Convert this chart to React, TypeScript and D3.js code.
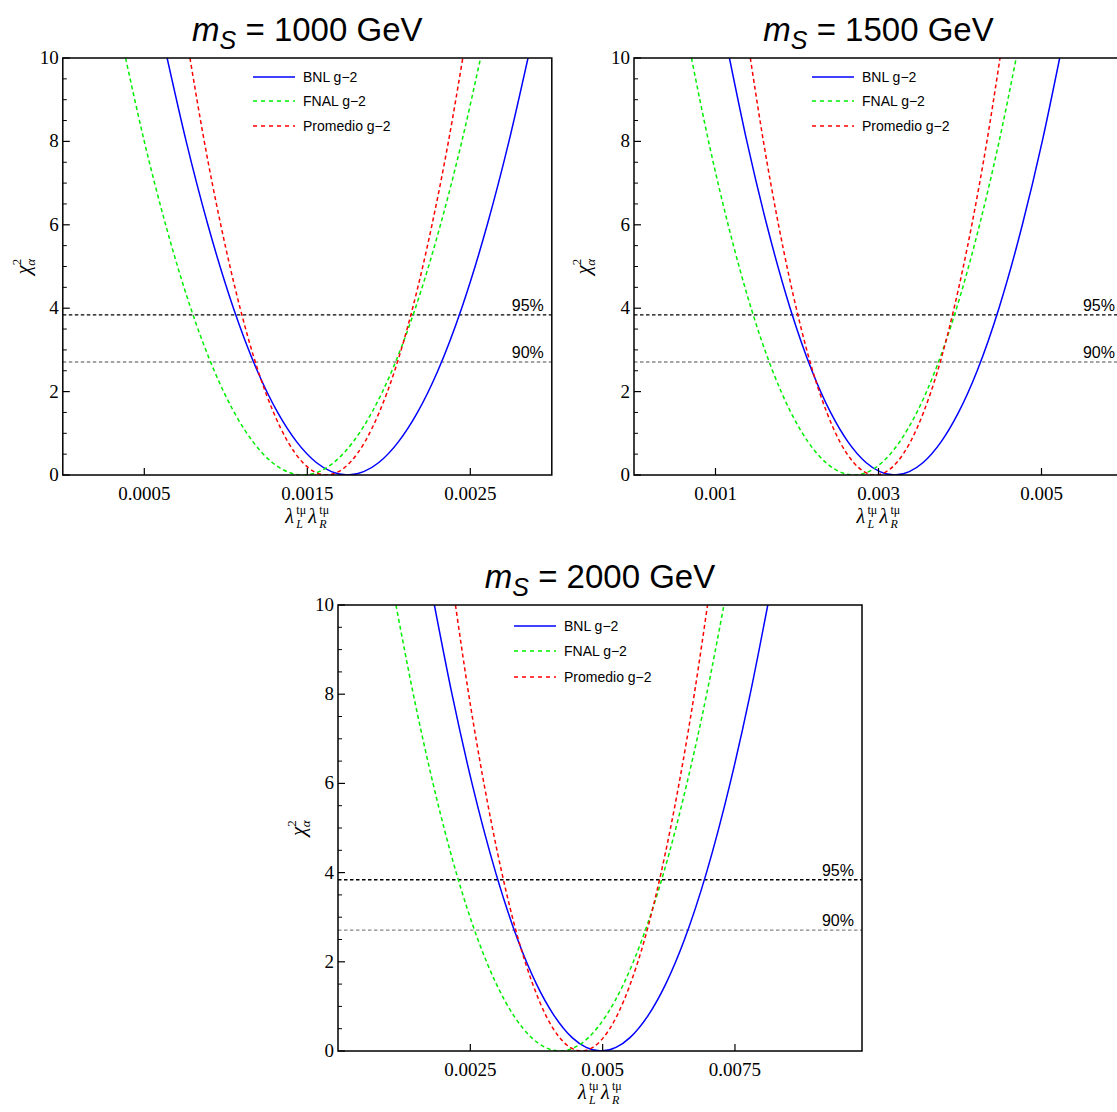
import React from "react";
import * as d3 from "d3";

const chiLevels = [10, 8, 6, 4, 2.5, 1.5, 0.8, 0.3, 0.08, 0, 0.08, 0.3, 0.8, 1.5, 2.5, 4, 6, 8, 10];

// m_S = 1000 GeV
const bnl1000 = [0.00064, 0.000757, 0.00089, 0.001047, 0.001193, 0.001318, 0.001434, 0.001555, 0.001648, 0.001747,
  0.001846, 0.001939, 0.00206, 0.002176, 0.002301, 0.002447, 0.002604, 0.002737, 0.002854];
const fnal1000 = [0.000385, 0.0005, 0.000631, 0.000785, 0.000929, 0.001052, 0.001166, 0.001285, 0.001377, 0.001474,
  0.001572, 0.001663, 0.001782, 0.001896, 0.002019, 0.002163, 0.002317, 0.002448, 0.002563];
const prom1000 = [0.00078, 0.000868, 0.000969, 0.001088, 0.001198, 0.001293, 0.00138, 0.001472, 0.001542, 0.001617,
  0.001692, 0.001762, 0.001854, 0.001941, 0.002036, 0.002146, 0.002265, 0.002366, 0.002454];

// m_S = 1500 GeV
const bnl1500 = [0.001171, 0.001385, 0.001629, 0.001916, 0.002183, 0.002412, 0.002624, 0.002846, 0.003016, 0.003197,
  0.003378, 0.003548, 0.00377, 0.003982, 0.004211, 0.004478, 0.004765, 0.005009, 0.005223];
const fnal1500 = [0.000705, 0.000915, 0.001155, 0.001437, 0.0017, 0.001925, 0.002134, 0.002352, 0.00252, 0.002697,
  0.002877, 0.003043, 0.003261, 0.00347, 0.003695, 0.003958, 0.00424, 0.00448, 0.00469];
const prom1500 = [0.001427, 0.001588, 0.001773, 0.001991, 0.002192, 0.002366, 0.002525, 0.002694, 0.002822, 0.002959,
  0.003096, 0.003224, 0.003393, 0.003552, 0.003726, 0.003927, 0.004145, 0.00433, 0.004491];

// m_S = 2000 GeV
const bnl2000 = [0.001821, 0.002154, 0.002532, 0.002979, 0.003394, 0.00375, 0.00408, 0.004424, 0.004689, 0.00497,
  0.005252, 0.005516, 0.005861, 0.006191, 0.006546, 0.006962, 0.007408, 0.007787, 0.00812];
const fnal2000 = [0.001095, 0.001423, 0.001795, 0.002233, 0.002643, 0.002993, 0.003317, 0.003656, 0.003918, 0.004194,
  0.004472, 0.004731, 0.00507, 0.005394, 0.005744, 0.006154, 0.006592, 0.006965, 0.007292];
const prom2000 = [0.002219, 0.002469, 0.002757, 0.003095, 0.003408, 0.003679, 0.003926, 0.004188, 0.004387, 0.0046,
  0.004814, 0.005013, 0.005275, 0.005522, 0.005792, 0.006105, 0.006444, 0.006731, 0.006982];

const seriesNames = ["BNL g\u22122", "FNAL g\u22122", "Promedio g\u22122"];
const seriesColors = ["#0000ff", "#00ee00", "#ff0000"];
const seriesDash = [null, "4,3", "4,3"];

const massLabels = ["1000", "1500", "2000"];
const xTicks1000 = [0.0005, 0.0015, 0.0025];
const xTicks1500 = [0.001, 0.003, 0.005];
const xTicks2000 = [0.0025, 0.005, 0.0075];
const yMajor = [0, 2, 4, 6, 8, 10];
const clValues = [3.84, 2.71];
const clLabels = ["95%", "90%"];

const serif = "'Liberation Serif', 'Times New Roman', serif";
const sans = "'Liberation Sans', Arial, sans-serif";

const panels = [
  { mass: massLabels[0], series: [bnl1000, fnal1000, prom1000], xMax: 0.003, ticks: xTicks1000,
    left: 62.8, right: 551.8, top: 58, bottom: 475, legendX: 253, legendY: [77, 101, 126], yLabelDx: -33 },
  { mass: massLabels[1], series: [bnl1500, fnal1500, prom1500], xMax: 0.006, ticks: xTicks1500,
    left: 634, right: 1123, top: 58, bottom: 475, legendX: 812, legendY: [77, 101, 126], yLabelDx: -44 },
  { mass: massLabels[2], series: [bnl2000, fnal2000, prom2000], xMax: 0.0099, ticks: xTicks2000,
    left: 338, right: 862, top: 605, bottom: 1051, legendX: 514, legendY: [626, 651, 677], yLabelDx: -33 },
];

function XLabel({ cx, y }) {
  const x0 = cx - 22;
  return (
    <g fontFamily={serif} fill="#000">
      <text x={x0} y={y} fontSize={20} fontStyle="italic">λ</text>
      <text x={x0 + 11} y={y - 9} fontSize={12}>tμ</text>
      <text x={x0 + 11} y={y + 5} fontSize={12} fontStyle="italic">L</text>
      <text x={x0 + 23} y={y} fontSize={20} fontStyle="italic">λ</text>
      <text x={x0 + 34} y={y - 9} fontSize={12}>tμ</text>
      <text x={x0 + 34} y={y + 5} fontSize={12} fontStyle="italic">R</text>
    </g>
  );
}

function Panel({ p }) {
  const x = d3.scaleLinear().domain([0, p.xMax]).range([p.left, p.right]);
  const y = d3.scaleLinear().domain([0, 10]).range([p.bottom, p.top]);
  const line = d3.line<[number, number]>()
    .x((d) => x(d[0]))
    .y((d) => y(d[1]))
    .curve(d3.curveMonotoneX);
  const yMinor = d3.range(0, 10.01, 0.5).filter((v) => !yMajor.includes(v));
  const cx = (p.left + p.right) / 2;
  const cy = (p.top + p.bottom) / 2;
  const clipId = "clip" + p.mass;

  return (
    <g>
      <defs>
        <clipPath id={clipId}>
          <rect x={p.left} y={p.top} width={p.right - p.left} height={p.bottom - p.top} />
        </clipPath>
      </defs>

      <text x={cx} y={p.top - 17} textAnchor="middle" fontFamily={sans} fontSize={33}>
        <tspan fontStyle="italic">m</tspan>
        <tspan fontStyle="italic" fontSize={25} dy={8}>S</tspan>
        <tspan dy={-8}> = {p.mass} GeV</tspan>
      </text>

      <g clipPath={`url(#${clipId})`}>
        {clValues.map((v, i) => (
          <line key={v} x1={p.left} x2={p.right} y1={y(v)} y2={y(v)}
            stroke={i === 0 ? "#000" : "#888"} strokeWidth={1.3} strokeDasharray="3.5,2.5" />
        ))}
        {p.series.map((s, i) => (
          <path key={i} d={line(s.map((v, j) => [v, chiLevels[j]]) as [number, number][]) || ""}
            fill="none" stroke={seriesColors[i]} strokeWidth={1.5}
            strokeDasharray={seriesDash[i] || undefined} />
        ))}
      </g>

      {clValues.map((v, i) => (
        <text key={v} x={p.right - 8} y={y(v) - 4} textAnchor="end" fontFamily={sans} fontSize={16}>
          {clLabels[i]}
        </text>
      ))}

      {/* legend */}
      {seriesNames.map((n, i) => (
        <g key={n}>
          <line x1={p.legendX} x2={p.legendX + 42} y1={p.legendY[i]} y2={p.legendY[i]}
            stroke={seriesColors[i]} strokeWidth={1.5} strokeDasharray={seriesDash[i] ? "4,4" : undefined} />
          <text x={p.legendX + 50} y={p.legendY[i] + 5} fontFamily={sans} fontSize={14}>{n}</text>
        </g>
      ))}

      {/* frame */}
      <rect x={p.left} y={p.top} width={p.right - p.left} height={p.bottom - p.top}
        fill="none" stroke="#000" strokeWidth={1.5} />

      {/* y ticks */}
      {yMajor.map((v) => (
        <g key={v}>
          <line x1={p.left} x2={p.left + 7} y1={y(v)} y2={y(v)} stroke="#000" strokeWidth={1.2} />
          <text x={p.left - 4} y={y(v) + 6} textAnchor="end" fontFamily={serif} fontSize={19}>{v}</text>
        </g>
      ))}
      {yMinor.map((v) => (
        <line key={v} x1={p.left} x2={p.left + 4} y1={y(v)} y2={y(v)} stroke="#000" strokeWidth={1} />
      ))}

      {/* x ticks */}
      {p.ticks.map((v) => (
        <g key={v}>
          <line x1={x(v)} x2={x(v)} y1={p.bottom} y2={p.bottom - 7} stroke="#000" strokeWidth={1.2} />
          <text x={x(v)} y={p.bottom + 25} textAnchor="middle" fontFamily={serif} fontSize={19}>{String(v)}</text>
        </g>
      ))}

      <XLabel cx={cx} y={p.bottom + 48} />

      <text transform={`translate(${p.left + p.yLabelDx},${cy}) rotate(-90)`} textAnchor="middle"
        fontFamily={serif} fontSize={21}>
        <tspan fontStyle="italic">χ</tspan>
        <tspan fontSize={13} dy={-9}>2</tspan>
        <tspan fontSize={13} fontStyle="italic" dx={-7} dy={14}>α</tspan>
      </text>
    </g>
  );
}

export default function App() {
  return (
    <svg width={1117} height={1112} style={{ position: "absolute", left: 0, top: 0, background: "#fff" }}>
      <rect width={1117} height={1112} fill="#fff" />
      {panels.map((p) => <Panel key={p.mass} p={p} />)}
    </svg>
  );
}
